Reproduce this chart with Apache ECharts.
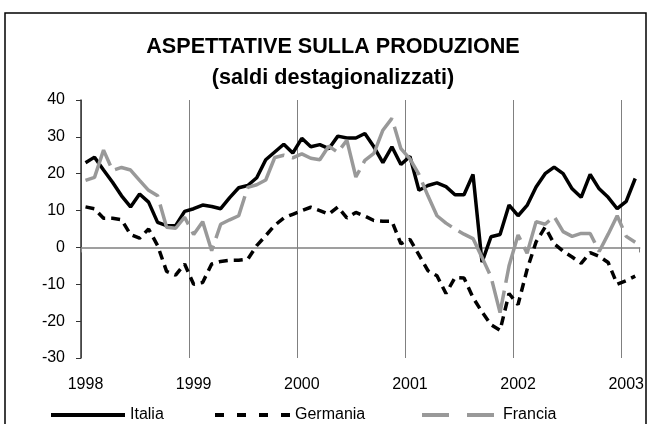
<!DOCTYPE html>
<html>
<head>
<meta charset="utf-8">
<script src="https://cdn.jsdelivr.net/npm/echarts@6/dist/echarts.min.js"></script>
<style>
  html, body { margin: 0; padding: 0; background: #fff; }
  #chart { width: 647px; height: 424px; }
</style>
</head>
<body>
<div id="chart"></div>
<script>
  // mesi da gen-1998 a feb-2003
  var anni = ['1998', '1999', '2000', '2001', '2002', '2003'];
  var mesi = [];
  anni.forEach(function (a) {
    for (var m = 1; m <= 12; m++) mesi.push(a + '-' + (m < 10 ? '0' + m : m));
  });
  mesi = mesi.slice(0, 62);

  var italia = [23, 24.5, 21, 17.7, 14, 11, 14.5, 12.3, 6.8, 5.9, 5.9, 9.8,
    10.5, 11.5, 11.1, 10.5, 13.5, 16.2, 16.8, 18.9, 23.8, 25.9, 28, 25.6,
    29.6, 27.3, 27.9, 26.8, 30.2, 29.7, 29.7, 30.9, 27.3, 23, 27.3, 22.5,
    24.7, 15.5, 16.8, 17.5, 16.5, 14.3, 14.3, 19.8, -4, 2.9, 3.5, 11.5,
    8.6, 11.4, 16.4, 20, 21.8, 20, 15.9, 13.6, 19.8, 15.9, 13.6, 10.5,
    12.5, 18.7];

  var germania = [11, 10.5, 7.9, 7.9, 7.5, 3.5, 2.5, 5, 0.5, -6.5, -7.5, -4.5,
    -10, -9.5, -4.5, -3.8, -3.5, -3.5, -3.2, 0.5, 3.2, 6, 8, 9,
    10, 10.9, 10, 9, 11, 8, 9.5, 8.5, 7.3, 7.1, 7.1, 1,
    2.2, -2, -6.3, -7.7, -12.5, -8.2, -8.3, -13.6, -17.5, -21, -22.5, -12.5,
    -15.5, -6, 1.5, 5.5, 1, -1, -2.6, -4.3, -1.4, -2.4, -4.1, -10,
    -9, -7.8];

  var francia = [18.2, 19, 26.4, 20.9, 21.7, 21, 18.2, 15.5, 14, 5.5, 5.2, 8.2,
    3.5, 7, -0.9, 6.3, 7.5, 8.6, 16.3, 17, 18.3, 24.4, 25, 24.3,
    25.4, 24.2, 23.8, 27.5, 25.8, 29.1, 19.1, 23.6, 25.5, 31.8, 35, 26.8,
    24, 19.8, 14, 8.6, 6.6, 5, 3.6, 2.4, -2.7, -8, -17.7, -5,
    3.4, -1.6, 7, 6.3, 8.4, 4.3, 3, 3.8, 3.8, -1.1, 3.6, 8.6,
    3, 1.4];

  var font = 'Liberation Sans, Arial, sans-serif';
  var ogniAnno = function (i) { return i % 12 === 0; };

  var myChart = echarts.init(document.getElementById('chart'));
  var option = {
    animation: false,
    title: {
      text: 'ASPETTATIVE SULLA PRODUZIONE',
      subtext: '(saldi destagionalizzati)',
      left: 328,
      top: 31,
      textAlign: 'center',
      itemGap: 9,
      textStyle: { fontFamily: font, fontSize: 21.6, fontWeight: 'bold', color: '#000' },
      subtextStyle: { fontFamily: font, fontSize: 21.6, fontWeight: 'bold', color: '#000' }
    },
    graphic: [{
      type: 'rect',
      shape: { x: 5, y: 13, width: 641, height: 420 },
      style: { fill: 'none', stroke: '#000', lineWidth: 1.5 },
      silent: true
    }],
    legend: [
      { data: ['Italia'], left: 49, itemWidth: 74, lineStyle: { width: 4 } },
      { data: ['Germania'], left: 213, itemWidth: 75, lineStyle: { width: 4, type: [9, 13] } },
      { data: ['Francia'], left: 420, itemWidth: 76, lineStyle: { width: 4, type: [27, 18] } }
    ].map(function (l) {
      l.top = 407;
      l.padding = 0;
      l.itemHeight = 14;
      l.itemStyle = { opacity: 0 };
      l.textStyle = { fontFamily: font, fontSize: 16, color: '#000' };
      return l;
    }),
    grid: { left: 81, right: 7, top: 100, bottom: 66 },
    xAxis: [{
      // linea dello zero
      type: 'category',
      data: mesi,
      position: 'top',
      boundaryGap: true,
      axisLine: { onZero: true, lineStyle: { color: '#808080', width: 1.5 } },
      axisTick: { show: true, inside: true, length: 5, interval: ogniAnno, lineStyle: { color: '#808080' } },
      axisLabel: { show: false },
      splitLine: { show: false }
    }, {
      type: 'category',
      data: mesi,
      position: 'bottom',
      boundaryGap: true,
      axisLine: { show: false, onZero: false },
      axisTick: { show: false },
      axisLabel: {
        interval: ogniAnno,
        margin: 19,
        fontFamily: font,
        fontSize: 16,
        color: '#000',
        formatter: function (v) { return v.slice(0, 4); }
      },
      splitLine: { show: true, showMaxLine: false, interval: ogniAnno, lineStyle: { color: '#808080', width: 1 } }
    }],
    yAxis: {
      type: 'value',
      min: -30,
      max: 40,
      interval: 10,
      axisLine: { show: true, lineStyle: { color: '#333', width: 1.5 } },
      axisTick: { show: true, length: 5, lineStyle: { color: '#333' } },
      axisLabel: { margin: 16, fontFamily: font, fontSize: 16, color: '#000' },
      splitLine: { show: false }
    },
    series: [{
      name: 'Italia',
      type: 'line',
      data: italia,
      symbol: 'none',
      lineStyle: { color: '#000', width: 3.5 },
      itemStyle: { color: '#000' }
    }, {
      name: 'Germania',
      type: 'line',
      data: germania,
      symbol: 'none',
      lineStyle: { color: '#000', width: 3.5, type: [9, 6] },
      itemStyle: { color: '#000' }
    }, {
      name: 'Francia',
      type: 'line',
      data: francia,
      symbol: 'none',
      lineStyle: { color: '#999999', width: 3.5, type: [55, 8] },
      itemStyle: { color: '#999999' }
    }]
  };
  myChart.setOption(option);
</script>
</body>
</html>
